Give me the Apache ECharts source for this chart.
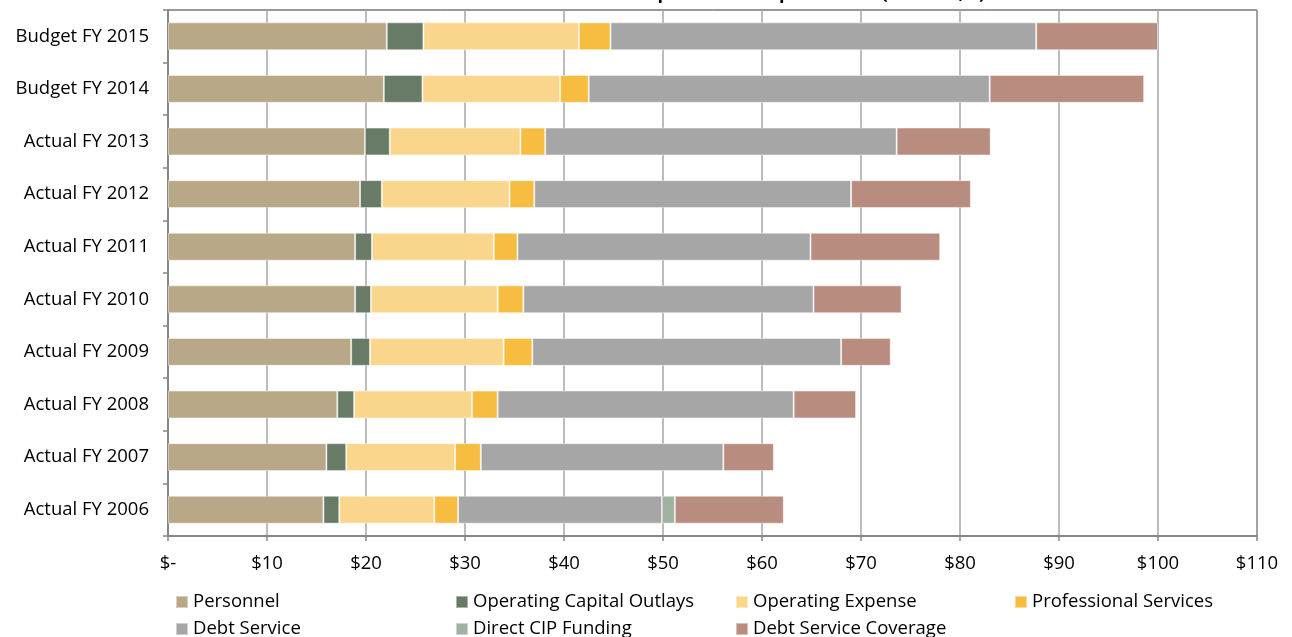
<!DOCTYPE html>
<html>
<head>
<meta charset="utf-8">
<script src="https://cdn.jsdelivr.net/npm/echarts@6/dist/echarts.min.js"></script>
<style>
  html, body { margin: 0; padding: 0; background: #ffffff; }
  #chart { width: 1292px; height: 637px; }
</style>
</head>
<body>
<div id="chart"></div>
<script>
// Fiscal years, bottom to top
const categories = [
  'Actual FY 2006', 'Actual FY 2007', 'Actual FY 2008', 'Actual FY 2009', 'Actual FY 2010',
  'Actual FY 2011', 'Actual FY 2012', 'Actual FY 2013', 'Budget FY 2014', 'Budget FY 2015'
];

// Expenditure components, $ millions
const personnel          = [15.7, 16.0, 17.1, 18.5, 18.9, 18.9, 19.4, 19.9, 21.8, 22.1];
const capitalOutlays     = [1.6, 2.0, 1.7, 1.9, 1.6, 1.7, 2.2, 2.5, 3.9, 3.7];
const operatingExpense   = [9.6, 11.0, 11.9, 13.5, 12.8, 12.3, 12.9, 13.2, 13.9, 15.7];
const professionalSvcs   = [2.4, 2.6, 2.6, 2.9, 2.6, 2.4, 2.5, 2.5, 2.9, 3.2];
const debtService        = [20.6, 24.5, 29.9, 31.2, 29.3, 29.6, 32.0, 35.5, 40.5, 43.0];
const directCipFunding   = [1.3, 0, 0, 0, 0, 0, 0, 0, 0, 0];
const debtSvcCoverage    = [11.0, 5.1, 6.3, 5.0, 8.9, 13.1, 12.1, 9.5, 15.6, 12.3];

const seriesNames = [
  'Personnel', 'Operating Capital Outlays', 'Operating Expense', 'Professional Services',
  'Debt Service', 'Direct CIP Funding', 'Debt Service Coverage'
];
const seriesData = [
  personnel, capitalOutlays, operatingExpense, professionalSvcs,
  debtService, directCipFunding, debtSvcCoverage
];
const seriesColors = ['#B8A888', '#687B66', '#FAD68C', '#F6BD41', '#A6A6A6', '#A0B2A0', '#B98C80'];

const FONT = '"Open Sans", "Liberation Sans", sans-serif';
const FS = 18.5;

const chart = echarts.init(document.getElementById('chart'), null, { renderer: 'canvas' });

// Legend laid out as a 4-column grid: one legend component per entry
const legendCols = [170, 450, 730, 1009];
const legendRows = [587, 614];
const legends = seriesNames.map((name, i) => ({
  data: [name],
  left: legendCols[i % 4],
  top: legendRows[Math.floor(i / 4)],
  itemWidth: 12,
  itemHeight: 12,
  icon: 'rect',
  selectedMode: false,
  textStyle: { fontFamily: FONT, fontSize: FS, color: '#000', lineHeight: 20 }
}));

const option = {
  animation: false,
  backgroundColor: '#ffffff',
  title: {
    text: 'Components of Expenditures (Millions, $)',
    right: 302,
    top: -20,
    textStyle: { fontFamily: FONT, fontSize: 18, fontWeight: 'bold', color: '#000' }
  },
  legend: legends,
  grid: {
    left: 168,
    right: 35,
    top: 10,
    bottom: 101,
    show: true,
    borderColor: '#333333',
    borderWidth: 1,
    containLabel: false
  },
  xAxis: {
    type: 'value',
    min: 0,
    max: 110,
    interval: 10,
    axisLine: { show: true, lineStyle: { color: '#868686', width: 2 } },
    axisTick: { show: true, length: 5, lineStyle: { color: '#868686', width: 1.5 } },
    splitLine: { show: true, lineStyle: { color: '#A6A6A6', width: 1.5 } },
    axisLabel: {
      fontFamily: FONT, fontSize: FS, color: '#000', margin: 18,
      formatter: v => v === 0 ? '$-' : '$' + v
    }
  },
  yAxis: {
    type: 'category',
    data: categories,
    axisLine: { show: true, lineStyle: { color: '#868686', width: 2 } },
    axisTick: { show: true, length: 5, inside: false, lineStyle: { color: '#868686', width: 1.5 } },
    axisLabel: { fontFamily: FONT, fontSize: FS, color: '#000', margin: 19 },
    splitLine: { show: false }
  },
  series: seriesNames.map((name, i) => ({
    name: name,
    type: 'bar',
    stack: 'total',
    barWidth: '53%',
    data: seriesData[i],
    itemStyle: { color: seriesColors[i], borderColor: 'rgba(255,255,255,0.45)', borderWidth: 1 },
    emphasis: { disabled: true }
  }))
};

chart.setOption(option);
</script>
</body>
</html>
